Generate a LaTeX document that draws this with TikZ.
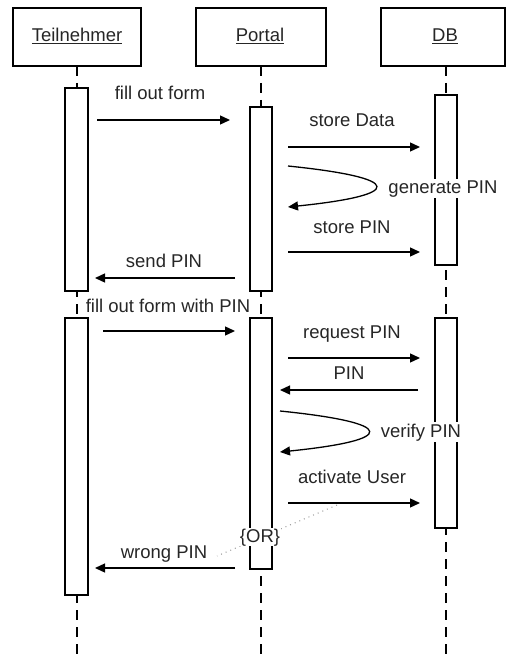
\documentclass[tikz,border=0pt]{standalone}
\usepackage{fontspec}
\setmainfont{Liberation Sans}
\usetikzlibrary{arrows.meta}
\begin{document}
\begin{tikzpicture}[x=1pt,y=-1pt,
  every node/.style={font=\fontsize{18.5}{20}\selectfont,text=black!85},
  head/.style={draw,line width=1.2pt,fill=white},
  life/.style={line width=1.2pt,dash pattern=on 10pt off 7pt},
  act/.style={draw,line width=1.2pt,fill=white},
  msg/.style={line width=1.3pt,-{Triangle[length=10pt,width=9pt]}},
  lbl/.style={anchor=base,inner sep=1pt},
  lblw/.style={anchor=base,inner sep=1.5pt,fill=white},
  orline/.style={gray!80,line width=1pt,dash pattern=on 1pt off 4pt}]
\useasboundingbox (0,0) rectangle (506,658);
% lifelines
\draw[life] (77,66) -- (77,658);
\draw[life] (261,66) -- (261,658);
\draw[life] (446,66) -- (446,658);
% heads
\draw[head] (13,8) rectangle (141,66);
\draw[head] (196,8) rectangle (326,66);
\draw[head] (381,8) rectangle (505,66);
\node[lbl] (h1) at (77,42) {\underline{Teilnehmer}};
\node[lbl] (h2) at (260,42) {\underline{Portal}};
\node[lbl] (h3) at (445,42) {\underline{DB}};
% activations
\draw[act] (65,88) rectangle (88,291);
\draw[act] (250,107) rectangle (272,291);
\draw[act] (435,95) rectangle (457,265);
\draw[act] (65,318) rectangle (88,595);
\draw[act] (250,318) rectangle (272,569);
\draw[act] (435,318) rectangle (457,528);
% coordinates
\coordinate (a1s) at (97,120);  \coordinate (a1e) at (230,120);
\coordinate (a2s) at (288,147); \coordinate (a2e) at (420,147);
\coordinate (g1s) at (288,166); \coordinate (g1e) at (288,207);
\coordinate (a3s) at (288,252); \coordinate (a3e) at (420,252);
\coordinate (a4s) at (235,278); \coordinate (a4e) at (95,278);
\coordinate (a5s) at (103,331); \coordinate (a5e) at (235,331);
\coordinate (a6s) at (288,358); \coordinate (a6e) at (420,358);
\coordinate (a7s) at (418,390); \coordinate (a7e) at (280,390);
\coordinate (v1s) at (280,411); \coordinate (v1e) at (280,452);
\coordinate (a8s) at (288,503); \coordinate (a8e) at (420,503);
\coordinate (a9s) at (235,568); \coordinate (a9e) at (95,568);
\coordinate (ors) at (337,505); \coordinate (ore) at (217,556);
% messages
\draw[msg] (a1s) -- (a1e);
\draw[msg] (a2s) -- (a2e);
\draw[msg] (g1s) .. controls (405,178) and (405,195) .. (g1e);
\draw[msg] (a3s) -- (a3e);
\draw[msg] (a4s) -- (a4e);
\draw[msg] (a5s) -- (a5e);
\draw[msg] (a6s) -- (a6e);
\draw[msg] (a7s) -- (a7e);
\draw[msg] (v1s) .. controls (398,423) and (398,440) .. (v1e);
\draw[msg] (a8s) -- (a8e);
\draw[msg] (a9s) -- (a9e);
\draw[orline] (ors) -- (ore);
% labels
\node[lbl] (l1) at (160,100) {fill out form};
\node[lbl] (l2) at (352,127) {store Data};
\node[lblw] (l3) at (443,193) {generate PIN};
\node[lbl] (l4) at (352,233) {store PIN};
\node[lbl] (l5) at (164,267) {send PIN};
\node[lbl] (l6) at (168,312) {fill out form with PIN};
\node[lbl] (l7) at (352,338) {request PIN};
\node[lbl] (l8) at (349,379) {PIN};
\node[lblw] (l9) at (421,437) {verify PIN};
\node[lbl] (l10) at (352,483) {activate User};
\node[lblw,inner sep=0.5pt] (l11) at (260,542) {\{OR\}};
\node[lbl] (l12) at (164,558) {wrong PIN};
\end{tikzpicture}
\end{document}
